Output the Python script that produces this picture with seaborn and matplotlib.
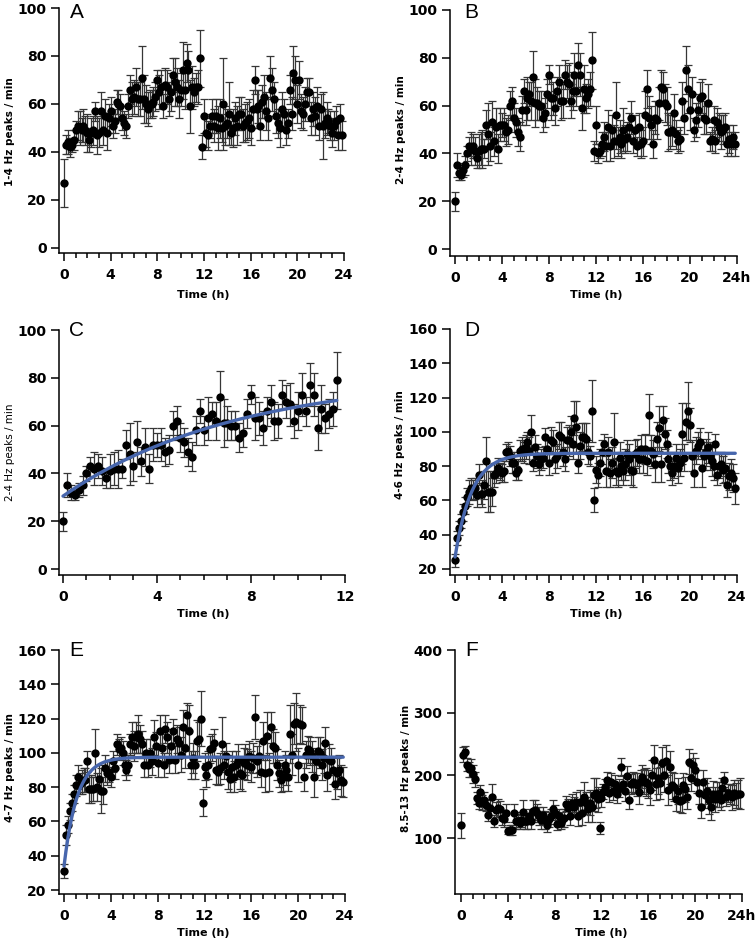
import numpy as np
import pandas as pd
import seaborn as sns
import matplotlib.pyplot as plt
from matplotlib.ticker import MultipleLocator

# ------------------- Data -------------------
# 10-min bins, one row per hour (0, 10, 20, 30, 40, 50 min)
a_mean = [
    [27, 43, 44, 42, 43, 45], [49, 51, 50, 49, 51, 49], [48, 45, 48, 49, 57, 47],
    [48, 57, 49, 55, 48, 54], [57, 51, 53, 61, 60, 59], [54, 52, 51, 59, 66, 62],
    [63, 67, 62, 62, 71, 62], [60, 58, 60, 60, 61, 63], [70, 65, 67, 59, 68, 67],
    [62, 65, 72, 69, 67, 62], [66, 74, 66, 77, 74, 59], [67, 65, 67, 67, 79, 42],
    [55, 48, 47, 51, 55, 51], [55, 50, 54, 50, 60, 51], [52, 56, 48, 50, 54, 51],
    [56, 56, 51, 52, 53, 54], [50, 58, 70, 58, 59, 51], [61, 63, 57, 54, 71, 66],
    [62, 55, 52, 50, 58, 56], [49, 52, 66, 56, 73, 70], [60, 70, 57, 56, 60, 65],
    [65, 54, 58, 55, 59, 51], [58, 51, 52, 54, 53, 51], [48, 51, 53, 47, 54, 47]]
a_err = [
    [10, 4, 5, 4, 3, 4], [4, 6, 7, 5, 7, 6], [8, 5, 6, 6, 4, 8],
    [6, 8, 6, 7, 7, 6], [6, 5, 5, 5, 6, 5], [5, 5, 5, 5, 6, 7],
    [7, 8, 7, 7, 13, 10], [8, 7, 6, 6, 6, 6], [4, 7, 7, 5, 7, 7],
    [7, 8, 7, 10, 8, 8], [7, 12, 8, 8, 8, 11], [9, 6, 6, 7, 12, 5],
    [7, 6, 6, 5, 7, 7], [7, 9, 8, 6, 19, 8], [6, 13, 5, 8, 7, 8],
    [7, 7, 7, 8, 8, 8], [7, 8, 6, 8, 7, 6], [7, 9, 8, 9, 9, 9],
    [7, 7, 6, 8, 7, 6], [6, 6, 6, 7, 11, 10], [8, 8, 7, 7, 7, 6],
    [6, 7, 7, 8, 8, 6], [6, 14, 6, 7, 5, 6], [6, 6, 6, 6, 6, 6]]

b_mean = [
    [20, 35, 32, 31, 33, 35], [40, 43, 42, 43, 41, 38], [41, 42, 42, 42, 52, 48],
    [43, 53, 45, 51, 42, 52], [52, 52, 49, 50, 60, 62], [55, 53, 49, 47, 58, 66],
    [58, 63, 65, 62, 72, 61], [61, 60, 60, 55, 57, 65], [73, 63, 63, 59, 66, 70],
    [62, 62, 73, 70, 69, 62], [66, 73, 66, 77, 73, 59], [67, 63, 65, 67, 79, 41],
    [52, 40, 41, 44, 47, 43], [51, 43, 50, 45, 56, 45], [47, 44, 50, 46, 47, 51],
    [55, 45, 50, 43, 51, 44], [45, 56, 67, 55, 52, 44], [55, 54, 61, 68, 67, 61],
    [60, 49, 49, 50, 57, 48], [45, 46, 62, 55, 75, 67], [58, 65, 50, 54, 58, 63],
    [64, 55, 54, 61, 45, 46], [54, 45, 53, 51, 49, 50], [51, 44, 46, 44, 47, 44]]
b_err = [
    [4, 5, 3, 2, 3, 4], [3, 4, 7, 5, 6, 4], [7, 7, 8, 4, 6, 13],
    [6, 9, 6, 8, 6, 7], [5, 7, 6, 6, 6, 6], [6, 6, 6, 6, 6, 5],
    [6, 9, 5, 8, 11, 10], [7, 6, 6, 6, 6, 6], [4, 9, 7, 7, 6, 7],
    [8, 7, 6, 7, 9, 7], [8, 9, 6, 9, 9, 9], [10, 6, 6, 7, 12, 4],
    [8, 4, 3, 5, 6, 6], [7, 6, 6, 7, 14, 6], [7, 6, 9, 6, 6, 6],
    [7, 5, 6, 4, 6, 6], [6, 10, 8, 9, 8, 6], [7, 8, 7, 7, 7, 8],
    [8, 8, 7, 7, 8, 6], [5, 5, 8, 7, 10, 10], [8, 7, 5, 7, 7, 7],
    [7, 7, 6, 8, 4, 5], [6, 5, 6, 6, 7, 6], [6, 5, 6, 5, 5, 5]]

d_mean = [
    [25, 38, 44, 48, 53, 57], [62, 65, 67, 66, 67, 63], [75, 64, 64, 69, 83, 65],
    [65, 65, 75, 76, 79, 77], [76, 77, 88, 89, 86, 82], [82, 76, 78, 89, 90, 88],
    [91, 94, 89, 100, 82, 91], [86, 81, 84, 85, 97, 90], [82, 95, 94, 84, 86, 98],
    [97, 88, 84, 95, 95, 100], [93, 108, 103, 82, 92, 97], [97, 96, 88, 86, 112, 60],
    [78, 75, 82, 88, 93, 77], [88, 76, 82, 94, 77, 76], [85, 80, 77, 81, 87, 84],
    [78, 77, 87, 88, 84, 90], [84, 90, 83, 110, 89, 87], [81, 96, 102, 81, 107, 99],
    [93, 84, 80, 76, 80, 85], [79, 82, 99, 85, 106, 112], [104, 86, 76, 89, 92, 94],
    [79, 86, 88, 91, 86, 83], [80, 93, 75, 80, 81, 78], [79, 69, 74, 76, 73, 67]]
d_err = [
    [4, 4, 4, 4, 5, 5], [5, 7, 6, 6, 6, 7], [6, 6, 8, 8, 14, 12],
    [12, 8, 7, 6, 6, 5], [5, 6, 5, 5, 6, 6], [6, 4, 6, 6, 7, 6],
    [7, 6, 8, 10, 5, 7], [7, 6, 6, 6, 5, 7], [7, 8, 7, 8, 7, 8],
    [9, 8, 7, 8, 9, 9], [9, 10, 15, 6, 8, 8], [8, 9, 7, 6, 18, 7],
    [8, 7, 8, 7, 6, 9], [9, 8, 9, 17, 8, 8], [9, 8, 8, 9, 8, 9],
    [9, 9, 8, 8, 8, 8], [8, 9, 8, 12, 9, 8], [10, 10, 13, 10, 8, 9],
    [8, 8, 8, 7, 7, 8], [9, 8, 18, 8, 11, 17], [10, 9, 8, 8, 8, 8],
    [11, 8, 8, 9, 8, 9], [8, 6, 6, 7, 7, 8], [8, 7, 8, 8, 8, 9]]

e_mean = [
    [31, 52, 58, 66, 71, 76], [81, 86, 82, 83, 84, 84], [95, 79, 79, 79, 100, 80],
    [85, 78, 78, 91, 88, 89], [86, 95, 91, 105, 102, 103], [100, 93, 90, 93, 105, 109],
    [104, 109, 111, 108, 105, 93], [100, 93, 100, 95, 109, 104], [94, 113, 103, 93, 114, 109],
    [96, 104, 113, 96, 108, 106], [99, 115, 103, 122, 113, 93], [97, 93, 107, 108, 120, 71],
    [92, 87, 93, 102, 103, 106], [90, 89, 91, 105, 93, 98], [89, 85, 92, 86, 93, 96],
    [88, 87, 94, 96, 93, 98], [92, 97, 121, 95, 98, 89], [107, 88, 110, 89, 115, 104],
    [103, 93, 88, 84, 86, 93], [90, 86, 111, 99, 117, 118], [93, 117, 116, 86, 99, 102],
    [101, 98, 86, 95, 101, 100], [93, 97, 106, 87, 96, 95], [90, 82, 88, 90, 84, 83]]
e_err = [
    [4, 6, 5, 5, 5, 5], [6, 7, 6, 7, 7, 7], [6, 8, 8, 7, 14, 8],
    [8, 13, 8, 8, 7, 6], [6, 6, 6, 6, 6, 6], [7, 6, 6, 6, 6, 9],
    [9, 9, 11, 8, 8, 7], [8, 7, 8, 8, 10, 8], [8, 9, 8, 7, 8, 9],
    [8, 10, 7, 8, 8, 9], [10, 10, 12, 7, 15, 8], [9, 8, 12, 10, 16, 8],
    [8, 7, 8, 8, 8, 8], [8, 8, 9, 16, 8, 8], [10, 8, 9, 9, 8, 9],
    [9, 9, 9, 9, 9, 9], [9, 9, 13, 9, 9, 9], [11, 11, 14, 11, 9, 10],
    [9, 9, 8, 7, 8, 8], [9, 8, 17, 12, 12, 17], [10, 11, 11, 8, 8, 8],
    [8, 9, 12, 8, 8, 9], [9, 9, 9, 9, 9, 8], [8, 9, 9, 9, 9, 9]]

f_mean = [
    [120, 233, 237, 217, 210, 212], [202, 194, 164, 156, 174, 157], [161, 153, 137, 148, 166, 127],
    [145, 148, 147, 132, 130, 140], [112, 113, 113, 140, 127, 127], [124, 129, 141, 127, 127, 135],
    [127, 143, 145, 140, 135, 129], [136, 129, 121, 130, 135, 146], [140, 123, 135, 124, 129, 132],
    [155, 148, 135, 156, 150, 158], [135, 158, 140, 166, 156, 146], [156, 150, 169, 172, 162, 116],
    [164, 174, 182, 193, 172, 189], [175, 186, 170, 180, 213, 187], [175, 199, 160, 186, 190, 188],
    [185, 173, 191, 198, 190, 189], [186, 176, 200, 224, 186, 195], [188, 220, 200, 223, 176, 213],
    [184, 181, 163, 175, 159, 160], [184, 178, 166, 222, 195, 216], [208, 190, 172, 150, 190, 168],
    [175, 160, 150, 171, 162, 170], [170, 160, 180, 193, 165, 172], [170, 165, 172, 168, 170, 171]]
f_err = [
    [20, 12, 10, 10, 12, 14], [14, 12, 10, 10, 10, 12], [12, 10, 10, 12, 20, 10],
    [12, 14, 12, 12, 12, 14], [6, 8, 8, 14, 12, 10], [10, 12, 20, 12, 12, 12],
    [12, 18, 16, 15, 14, 14], [14, 14, 12, 12, 12, 14], [12, 10, 12, 10, 12, 14],
    [12, 14, 14, 14, 16, 16], [16, 18, 20, 24, 18, 20], [20, 24, 26, 24, 20, 10],
    [14, 12, 12, 12, 14, 14], [14, 14, 14, 14, 14, 14], [16, 16, 14, 16, 16, 16],
    [18, 18, 18, 18, 20, 22], [22, 24, 24, 24, 26, 24], [26, 26, 26, 26, 24, 26],
    [22, 22, 20, 20, 18, 20], [20, 20, 20, 20, 20, 20], [20, 18, 18, 18, 18, 20],
    [20, 22, 22, 20, 20, 20], [20, 16, 16, 12, 14, 14], [16, 20, 20, 20, 22, 24]]

# one-phase association fits (Y0, plateau, K per hour, last hour)
fit_c = [30.5, 81.0, 0.135, 11.65]
fit_d = [27.0, 87.5, 0.70, 23.85]
fit_e = [34.0, 97.5, 0.90, 23.85]


def to_df(mean, err, n=None):
    m = np.ravel(mean).astype(float)
    s = np.ravel(err).astype(float)
    df = pd.DataFrame({'t': np.arange(len(m)) / 6.0, 'mean': m, 'err': s})
    if n is not None:
        df = df.iloc[:n]
    return df


# panel C is the first 12 h of the 2-4 Hz data
panels = [
    dict(df=to_df(a_mean, a_err), letter='A', ylab='1-4 Hz peaks / min', fit=None,
         box=(59, 344, 253, 8), xlim=(-0.43, 24), ylim=(-2.1, 100), yt=[0, 20, 40, 60, 80, 100],
         xmax=24, last='24', ylab_xy=(10, 132), time_xy=(203, 295), let_xy=(70, 12)),
    dict(df=to_df(b_mean, b_err), letter='B', ylab='2-4 Hz peaks / min', fit=None,
         box=(450, 737, 256, 10), xlim=(-0.43, 24), ylim=(-2.9, 100), yt=[0, 20, 40, 60, 80, 100],
         xmax=24, last='24h', ylab_xy=(401, 130), time_xy=(596, 295), let_xy=(464, 12)),
    dict(df=to_df(b_mean, b_err, 71), letter='C', ylab='2-4 Hz peaks / min', fit=fit_c,
         box=(59, 345, 575, 330), xlim=(-0.17, 12), ylim=(-2.5, 100), yt=[0, 20, 40, 60, 80, 100],
         xmax=12, last='12', ylab_xy=(10, 452), time_xy=(203, 614), let_xy=(69, 330)),
    dict(df=to_df(d_mean, d_err), letter='D', ylab='4-6 Hz peaks / min', fit=fit_d,
         box=(450, 737, 575, 329), xlim=(-0.43, 24), ylim=(16.5, 160), yt=[20, 40, 60, 80, 100, 120, 140, 160],
         xmax=24, last='24', ylab_xy=(400, 445), time_xy=(596, 614), let_xy=(464, 330)),
    dict(df=to_df(e_mean, e_err), letter='E', ylab='4-7 Hz peaks / min', fit=fit_e,
         box=(59, 345, 894, 650), xlim=(-0.43, 24), ylim=(17.7, 160), yt=[20, 40, 60, 80, 100, 120, 140, 160],
         xmax=24, last='24', ylab_xy=(10, 768), time_xy=(203, 933), let_xy=(69, 650)),
    dict(df=to_df(f_mean, f_err), letter='F', ylab='8.5-13 Hz peaks / min', fit=None,
         box=(455, 742, 894, 650), xlim=(-0.51, 24), ylim=(10.7, 400), yt=[100, 200, 300, 400],
         xmax=24, last='24h', ylab_xy=(406, 768), time_xy=(601, 933), let_xy=(465, 650)),
]

# ------------------- Plot -------------------
sns.set_style('ticks')
plt.rcParams['font.family'] = ['DejaVu Sans']
plt.rcParams['font.weight'] = 'bold'
plt.rcParams['text.color'] = 'black'
plt.rcParams['xtick.color'] = 'black'
plt.rcParams['ytick.color'] = 'black'
plt.rcParams['axes.edgecolor'] = 'black'

W, H = 756, 944
fig = plt.figure(figsize=(W / 100, H / 100), dpi=100)

for p in panels:
    l, r, b, t = p['box']
    ax = fig.add_axes([l / W, 1 - b / H, (r - l) / W, (b - t) / H])
    df = p['df']

    ax.errorbar(df['t'], df['mean'], yerr=df['err'], fmt='none', ecolor='#363636',
                elinewidth=0.9, capsize=3, capthick=0.9, zorder=2, clip_on=False)
    sns.scatterplot(data=df, x='t', y='mean', ax=ax, color='black', s=36,
                    edgecolor='black', linewidth=0, zorder=3, clip_on=False)

    if p['fit'] is not None:
        y0, plateau, k, tend = p['fit']
        tf = np.linspace(0, tend, 300)
        yf = y0 + (plateau - y0) * (1 - np.exp(-k * tf))
        sns.lineplot(x=tf, y=yf, ax=ax, color='#4766ad', linewidth=2.4, zorder=4)

    ax.set_xlim(*p['xlim'])
    ax.set_ylim(*p['ylim'])
    xt = list(range(0, p['xmax'] + 1, 4))
    ax.set_xticks(xt)
    ax.set_xticklabels([str(v) for v in xt[:-1]] + [p['last']])
    ax.xaxis.set_minor_locator(MultipleLocator(1))
    ax.set_yticks(p['yt'])
    ax.tick_params(axis='both', which='major', labelsize=10, width=1.1, length=6,
                   color='black', labelcolor='black')
    ax.tick_params(axis='x', which='major', pad=5)
    ax.tick_params(axis='y', which='major', pad=3)
    ax.tick_params(axis='x', which='minor', width=1.1, length=3.5, color='black')
    for lab in ax.get_xticklabels() + ax.get_yticklabels():
        lab.set_fontweight('bold')
    for s in ['top', 'right']:
        ax.spines[s].set_visible(False)
    for s in ['left', 'bottom']:
        ax.spines[s].set_linewidth(1.1)
        ax.spines[s].set_color('black')
    ax.set_xlabel('')
    ax.set_ylabel('')
    ax.patch.set_alpha(0)

    fx, fy = p['ylab_xy']
    fig.text(fx / W, 1 - fy / H, p['ylab'], rotation=90, ha='center', va='center',
             fontsize=7.5, fontweight='normal' if p['letter'] == 'C' else 'bold')
    tx, ty = p['time_xy']
    fig.text(tx / W, 1 - ty / H, 'Time (h)', ha='center', va='center', fontsize=8,
             fontweight='bold')
    lx, ly = p['let_xy']
    fig.text(lx / W, 1 - ly / H, p['letter'], ha='left', va='center', fontsize=15,
             fontweight='normal', family=['Liberation Sans Narrow', 'Liberation Sans'])

fig.savefig('out.png', dpi=100, facecolor='white')
